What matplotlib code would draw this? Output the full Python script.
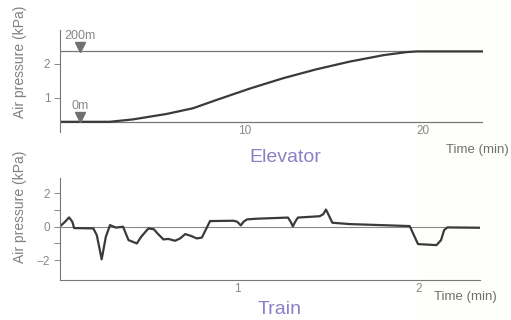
import matplotlib.pyplot as plt
from matplotlib.patches import Rectangle

plt.rcParams['font.family'] = ['Liberation Sans', 'DejaVu Sans']

# elevator: time (min) vs air pressure (kPa)
elev_t = [-0.4, 2.4, 3.7, 5.6, 7.1, 8.4, 10.3, 12.15, 14.0, 15.9, 17.8, 19.1, 19.7, 23.4]
elev_p = [0.3, 0.3, 0.37, 0.53, 0.70, 0.94, 1.28, 1.58, 1.84, 2.07, 2.26, 2.35, 2.37, 2.37]
floor_levels = [0.3, 2.37]
floor_labels = ['0m', '200m']

# train: time (min) vs air pressure (kPa)
train_t = [0.02, 0.05, 0.072, 0.09, 0.1, 0.206, 0.225, 0.252, 0.275, 0.298, 0.33, 0.37, 0.385,
           0.40, 0.446, 0.47, 0.51, 0.54, 0.56, 0.593, 0.62, 0.657, 0.685, 0.713, 0.745, 0.777,
           0.805, 0.83, 0.85, 0.98, 1.0, 1.02, 1.035, 1.054, 1.105, 1.28, 1.295, 1.307, 1.32,
           1.335, 1.455, 1.475, 1.49, 1.505, 1.525, 1.62, 1.952, 1.975, 1.998, 2.1, 2.125,
           2.142, 2.16, 2.336]
train_p = [0.0, 0.3, 0.56, 0.3, -0.08, -0.1, -0.5, -1.95, -0.6, 0.1, -0.05, 0.0, -0.4,
           -0.8, -1.0, -0.6, -0.1, -0.15, -0.4, -0.76, -0.73, -0.84, -0.7, -0.44, -0.55, -0.7,
           -0.65, -0.1, 0.34, 0.36, 0.3, 0.08, 0.3, 0.44, 0.48, 0.55, 0.3, 0.02, 0.3,
           0.55, 0.63, 0.75, 1.03, 0.7, 0.24, 0.16, 0.04, -0.5, -1.04, -1.1, -0.8,
           -0.2, -0.04, -0.06]

gray = '#888888'
purple = '#8a80c4'
line_c = '#3a3a3a'

fig = plt.figure(figsize=(5.11, 3.2), dpi=100)
fig.patches.append(Rectangle((420 / 511, 0), 85 / 511, 1, transform=fig.transFigure,
                             color='#fefefa', zorder=-10))

# ---- elevator
ax1 = fig.add_axes([60 / 511, 1 - 132 / 320, 423 / 511, 102 / 320])
ax1.patch.set_alpha(0)
for lv in floor_levels:
    ax1.axhline(lv, color='#777777', lw=0.9)
ax1.plot(elev_t, elev_p, color=line_c, lw=1.6, solid_joinstyle='round')
for lv, lab in zip(floor_levels, floor_labels):
    ax1.plot([0.73], [lv + 0.14], marker='v', color='#707070', ms=7, ls='none')
    ax1.text(0.73, lv + 0.28, lab, ha='center', va='bottom', color=gray, fontsize=9)
ax1.set_xlim(-0.39, 23.4)
ax1.set_ylim(0, 3.0)
ax1.set_xticks([10, 20])
ax1.set_yticks([1, 2])
ax1.tick_params(axis='x', length=0, pad=-5, colors=gray, labelsize=8.5)
ax1.tick_params(axis='y', length=4, width=0.7, colors=gray, labelsize=8.5, pad=3)
for s in ['top', 'right', 'bottom']:
    ax1.spines[s].set_visible(False)
ax1.spines['left'].set_color('#777777')
ax1.spines['left'].set_linewidth(0.8)

# ---- train
ax2 = fig.add_axes([60 / 511, 1 - 280 / 320, 420 / 511, 102 / 320])
ax2.patch.set_alpha(0)
ax2.axhline(0, color='#888888', lw=0.8)
ax2.plot(train_t, train_p, color=line_c, lw=1.6, solid_joinstyle='round')
ax2.set_xlim(0.022, 2.34)
ax2.set_ylim(-3.19, 2.92)
ax2.set_xticks([1, 2])
ax2.set_yticks([-2, -1, 0, 1, 2])
ax2.set_yticklabels(['\u22122', '', '0', '', '2'])
ax2.tick_params(axis='x', length=0, pad=2, colors=gray, labelsize=8.5)
ax2.tick_params(axis='y', length=4, width=0.7, colors=gray, labelsize=8.5, pad=3)
for s in ['top', 'right']:
    ax2.spines[s].set_visible(False)
for s in ['left', 'bottom']:
    ax2.spines[s].set_color('#777777')
    ax2.spines[s].set_linewidth(0.8)

# labels
for yc in [62, 207]:
    fig.text(20 / 511, 1 - yc / 320, 'Air pressure (kPa)', rotation=90, ha='center',
             va='center', color='#808080', fontsize=10)
fig.text(285 / 511, 1 - 158 / 320, 'Elevator', ha='center', va='center', color=purple, fontsize=14)
fig.text(280 / 511, 1 - 310 / 320, 'Train', ha='center', va='center', color=purple, fontsize=14)
fig.text(509 / 511, 1 - 150 / 320, 'Time (min)', ha='right', va='center', color='#707070', fontsize=9.5)
fig.text(497 / 511, 1 - 297 / 320, 'Time (min)', ha='right', va='center', color='#707070', fontsize=9.5)

fig.savefig('out.png', dpi=100)
